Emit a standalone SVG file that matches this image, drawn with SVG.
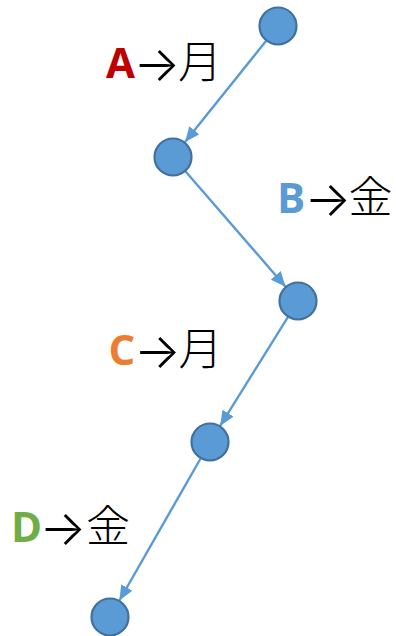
<svg xmlns="http://www.w3.org/2000/svg" width="396" height="636" viewBox="0 0 396 636">
<style>
.node{fill:#5B9BD5;stroke:#41719C;stroke-width:2.2}
.edge{stroke:#5B9BD5;stroke-width:2.4;fill:none;marker-end:url(#ah)}
.cjk{font-family:"Noto Sans CJK JP","Noto Sans",sans-serif;font-size:44px;font-weight:300;fill:#000}
.k{font-family:"Open Sans","Noto Sans",sans-serif;font-weight:bold;font-size:42px}
.ar{font-family:Inter,Lato,sans-serif;font-weight:300;font-size:49px;fill:#000}
</style>
<defs>
<marker id="ah" viewBox="0 0 15 13" refX="15" refY="6.5" markerWidth="15" markerHeight="13" markerUnits="userSpaceOnUse" orient="auto">
<path d="M0,0 L15,6.5 L0,13 Z" fill="#5B9BD5"/>
</marker>
</defs>
<g id="connectors">
<line class="edge" x1="266" y1="41" x2="185" y2="142"/>
<line class="edge" x1="185.4" y1="171.3" x2="285.6" y2="286.7"/>
<line class="edge" x1="287.9" y1="317.1" x2="220.1" y2="425.9"/>
<line class="edge" x1="200.6" y1="458.5" x2="119.4" y2="600.5"/>
</g>
<g id="n1"><circle class="node" cx="278" cy="26" r="18.5"/></g>
<g id="n2"><circle class="node" cx="173" cy="157" r="18.5"/></g>
<g id="n3"><circle class="node" cx="298" cy="301" r="18.5"/></g>
<g id="n4"><circle class="node" cx="210" cy="442" r="18.5"/></g>
<g id="n5"><circle class="node" cx="110" cy="617" r="18.5"/></g>
<g id="labelA">
<text class="k" x="106" y="78" fill="#C00000">A</text>
<text class="ar" x="133.6" y="81">→</text>
<text class="cjk" x="178" y="78">月</text>
</g>
<g id="labelB">
<text class="k" x="277" y="213" fill="#5B9BD5">B</text>
<text class="ar" x="304.5" y="216">→</text>
<text class="cjk" x="348.5" y="213">金</text>
</g>
<g id="labelC">
<text class="k" x="108.5" y="365" fill="#ED7D31">C</text>
<text class="ar" x="134" y="368">→</text>
<text class="cjk" x="178.5" y="365">月</text>
</g>
<g id="labelD">
<text class="k" x="11" y="542" fill="#70AD47">D</text>
<text class="ar" x="39.6" y="545">→</text>
<text class="cjk" x="86" y="542">金</text>
</g>
</svg>
